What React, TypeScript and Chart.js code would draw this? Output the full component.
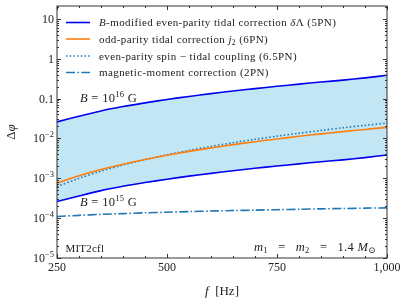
import React, { useEffect, useRef } from "react";
import { Chart, registerables } from "chart.js";

Chart.register(...registerables);

// ---- data ----
const freq = [250, 300, 350, 400, 450, 500, 550, 600, 650, 700, 750, 800, 850, 900, 950, 1000];
const evenTidalB16 = [0.026, 0.036, 0.049, 0.063, 0.078, 0.095, 0.113, 0.133, 0.155, 0.178, 0.203, 0.23, 0.26, 0.29, 0.33, 0.385];
const evenTidalB15 = [0.00026, 0.00036, 0.00049, 0.00063, 0.00078, 0.00095, 0.00113, 0.00133, 0.00155, 0.00178, 0.00203, 0.0023, 0.0026, 0.0029, 0.0033, 0.00385];
const oddTidalJ2 = [0.00076, 0.00116, 0.00166, 0.00226, 0.00297, 0.00379, 0.00473, 0.00579, 0.00698, 0.00828, 0.0097, 0.0113, 0.013, 0.0148, 0.0168, 0.0189];
const spinTidal = [0.00062, 0.001, 0.00151, 0.00215, 0.00294, 0.00389, 0.00501, 0.00632, 0.00781, 0.0095, 0.0114, 0.0135, 0.0159, 0.0185, 0.0213, 0.0243];
const magMoment = [0.00011, 0.0001175, 0.0001245, 0.00013, 0.000136, 0.000141, 0.000146, 0.000151, 0.000155, 0.000159, 0.000163, 0.000167, 0.000171, 0.0001745, 0.000178, 0.000181];
const xTickValues = [250, 500, 750, 1000];
const yDecadeExps = [-5, -4, -3, -2, -1, 0, 1];
const yMin = 1e-5;
const yMax = 21;

const FONT = '"Liberation Serif", "DejaVu Serif", serif';
const BLUE = "#0000f0";
const ORANGE = "#ff7f0e";
const TABBLUE = "#1f77b4";
const FILL = "rgba(135,206,235,0.5)";
const TXT = "#222";

type Part = { t: string; italic?: boolean; size: number; dy?: number };

function drawRich(
  ctx: CanvasRenderingContext2D,
  parts: Part[],
  x: number,
  y: number,
  align: "left" | "center" = "left",
  spacing = 0
) {
  (ctx as any).letterSpacing = `${spacing}px`;
  let total = 0;
  for (const p of parts) {
    ctx.font = `${p.italic ? "italic " : ""}${p.size}px ${FONT}`;
    total += ctx.measureText(p.t).width;
  }
  let cx = align === "center" ? x - total / 2 : x;
  ctx.textBaseline = "alphabetic";
  ctx.textAlign = "left";
  for (const p of parts) {
    ctx.font = `${p.italic ? "italic " : ""}${p.size}px ${FONT}`;
    ctx.fillText(p.t, cx, y + (p.dy || 0));
    cx += ctx.measureText(p.t).width;
  }
  (ctx as any).letterSpacing = "0px";
}

const decorPlugin = {
  id: "decor",
  afterDraw(chart: any) {
    const ctx: CanvasRenderingContext2D = chart.ctx;
    const { left, right, top, bottom } = chart.chartArea;
    const xs = chart.scales.x;
    const ys = chart.scales.y;
    ctx.save();
    // frame
    ctx.strokeStyle = "#333";
    ctx.lineWidth = 1;
    ctx.strokeRect(left, top, right - left, bottom - top);
    // x ticks
    ctx.beginPath();
    for (let v = 250; v <= 1000; v += 50) {
      const px = Math.round(xs.getPixelForValue(v)) + 0.5;
      const len = v % 250 === 0 ? 4 : 2;
      ctx.moveTo(px, bottom);
      ctx.lineTo(px, bottom - len);
      ctx.moveTo(px, top);
      ctx.lineTo(px, top + len);
    }
    // y ticks
    for (const e of [-5, -4, -3, -2, -1, 0, 1]) {
      for (let m = 1; m <= 9; m++) {
        const v = m * Math.pow(10, e);
        if (v < yMin || v > yMax) continue;
        const py = Math.round(ys.getPixelForValue(v)) + 0.5;
        const len = m === 1 ? 4 : 2;
        ctx.moveTo(left, py);
        ctx.lineTo(left + len, py);
        ctx.moveTo(right, py);
        ctx.lineTo(right - len, py);
      }
    }
    ctx.stroke();

    // y tick labels
    ctx.fillStyle = TXT;
    for (const e of yDecadeExps) {
      const py = ys.getPixelForValue(Math.pow(10, e));
      const base = py + 4;
      if (e === 1 || e === 0 || e === -1) {
        const s = e === 1 ? "10" : e === 0 ? "1" : "0.1";
        ctx.font = `12px ${FONT}`;
        ctx.textAlign = "right";
        ctx.textBaseline = "alphabetic";
        ctx.fillText(s, left - 3, base);
      } else {
        ctx.font = `8.5px ${FONT}`;
        const ex = "\u2212" + String(-e);
        const ew = ctx.measureText(ex).width;
        ctx.font = `12px ${FONT}`;
        const bw = ctx.measureText("10").width;
        const x0 = left - 3 - ew - bw;
        drawRich(ctx, [{ t: "10", size: 12 }, { t: ex, size: 8.5, dy: -5 }], x0, base);
      }
    }

    // legend
    const rows = [22.5, 39, 56, 72.5];
    const lx0 = 66;
    const lx1 = 90;
    const styles: [string, number[]][] = [
      [BLUE, []],
      [ORANGE, []],
      [TABBLUE, [1.5, 2.2]],
      [TABBLUE, [9, 2.4, 1.5, 2.4]],
    ];
    styles.forEach(([c, d], i) => {
      ctx.beginPath();
      ctx.strokeStyle = c;
      ctx.lineWidth = 1.6;
      ctx.setLineDash(d);
      ctx.moveTo(lx0, rows[i]);
      ctx.lineTo(lx1, rows[i]);
      ctx.stroke();
    });
    ctx.setLineDash([]);
    ctx.fillStyle = TXT;
    const ls = 11;
    const sp = 0.4;
    const tx = 99;
    drawRich(ctx, [
      { t: "B", italic: true, size: ls },
      { t: "-modified even-parity tidal correction ", size: ls },
      { t: "\u03b4", italic: true, size: ls },
      { t: "\u039b (5PN)", size: ls },
    ], tx, rows[0] + 3.5, "left", sp);
    drawRich(ctx, [
      { t: "odd-parity tidal correction ", size: ls },
      { t: "j", italic: true, size: ls },
      { t: "2", size: 7.5, dy: 2 },
      { t: " (6PN)", size: ls },
    ], tx, rows[1] + 3.5, "left", sp);
    drawRich(ctx, [{ t: "even-parity spin \u2212 tidal coupling (6.5PN)", size: ls }], tx, rows[2] + 3.5, "left", sp);
    drawRich(ctx, [{ t: "magnetic-moment correction (2PN)", size: ls }], tx, rows[3] + 3.5, "left", sp);

    // annotations
    drawRich(ctx, [
      { t: "B", italic: true, size: 12.5 },
      { t: " = 10", size: 12.5 },
      { t: "16", size: 8.5, dy: -5 },
      { t: " G", size: 12.5 },
    ], 80, 101.5, "left", 0.3);
    drawRich(ctx, [
      { t: "B", italic: true, size: 12.5 },
      { t: " = 10", size: 12.5 },
      { t: "15", size: 8.5, dy: -5 },
      { t: " G", size: 12.5 },
    ], 80, 205.5, "left", 0.3);
    drawRich(ctx, [{ t: "MIT2cfl", size: 11 }], 65.5, 252, "left", 0.2);
    drawRich(ctx, [
      { t: "m", italic: true, size: 12.5 },
      { t: "1", size: 8.5, dy: 2 },
      { t: "   =   ", size: 12.5 },
      { t: "m", italic: true, size: 12.5 },
      { t: "2", size: 8.5, dy: 2 },
      { t: "   =   1.4 ", size: 12.5 },
      { t: "M", italic: true, size: 12.5 },
      { t: "\u2299", size: 8.5, dy: 2 },
    ], 254, 251, "left", 0.3);

    // axis titles
    drawRich(ctx, [
      { t: "f", italic: true, size: 13 },
      { t: "  [Hz]", size: 13 },
    ], (left + right) / 2, 295, "center");
    ctx.save();
    ctx.translate(15, (top + bottom) / 2);
    ctx.rotate(-Math.PI / 2);
    drawRich(ctx, [
      { t: "\u0394", size: 13 },
      { t: "\u03c6", italic: true, size: 13 },
    ], 0, 0, "center");
    ctx.restore();
    ctx.restore();
  },
};

export default function App() {
  const ref = useRef<HTMLCanvasElement | null>(null);
  useEffect(() => {
    document.body.style.margin = "0";
    const canvas = ref.current;
    if (!canvas) return;
    const pts = (arr: number[]) => freq.map((f, i) => ({ x: f, y: arr[i] }));
    const chart = new Chart(canvas, {
      type: "line",
      data: {
        datasets: [
          {
            label: "B16",
            data: pts(evenTidalB16),
            borderColor: BLUE,
            borderWidth: 1.6,
            pointRadius: 0,
            tension: 0.3,
            fill: { target: 1 },
            backgroundColor: FILL,
          },
          {
            label: "B15",
            data: pts(evenTidalB15),
            borderColor: BLUE,
            borderWidth: 1.6,
            pointRadius: 0,
            tension: 0.3,
            fill: false,
          },
          {
            label: "j2",
            data: pts(oddTidalJ2),
            borderColor: ORANGE,
            borderWidth: 1.6,
            pointRadius: 0,
            tension: 0.3,
            fill: false,
          },
          {
            label: "spin",
            data: pts(spinTidal),
            borderColor: TABBLUE,
            borderWidth: 1.6,
            borderDash: [1.5, 2.2],
            pointRadius: 0,
            tension: 0.3,
            fill: false,
          },
          {
            label: "mag",
            data: pts(magMoment),
            borderColor: TABBLUE,
            borderWidth: 1.6,
            borderDash: [9, 2.4, 1.5, 2.4],
            pointRadius: 0,
            tension: 0.3,
            fill: false,
          },
        ],
      },
      options: {
        responsive: false,
        animation: false,
        events: [],
        layout: { padding: { top: 6, right: 20, left: 0, bottom: 0 } },
        plugins: {
          legend: { display: false },
          tooltip: { enabled: false },
          filler: { drawTime: "beforeDatasetsDraw" },
        } as any,
        scales: {
          x: {
            type: "linear",
            min: 250,
            max: 1000,
            grid: { display: false, drawTicks: false },
            border: { display: false },
            ticks: {
              font: { family: FONT, size: 12 },
              color: TXT,
              padding: 3,
              maxRotation: 0,
            },
            afterBuildTicks: (s: any) => {
              s.ticks = xTickValues.map((v) => ({ value: v }));
            },
            afterFit: (s: any) => {
              s.height = 47;
            },
          },
          y: {
            type: "logarithmic",
            min: yMin,
            max: yMax,
            grid: { display: false, drawTicks: false },
            border: { display: false },
            ticks: { display: false },
            afterFit: (s: any) => {
              s.width = 57;
            },
          },
        },
      },
      plugins: [decorPlugin],
    });
    return () => chart.destroy();
  }, []);
  return (
    <div style={{ width: 407, height: 305 }}>
      <canvas ref={ref} width={407} height={305} />
    </div>
  );
}
